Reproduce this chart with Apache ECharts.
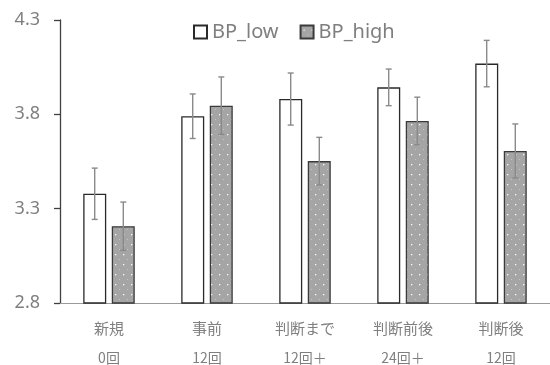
<!DOCTYPE html>
<html><head><meta charset="utf-8">
<script src="https://cdn.jsdelivr.net/npm/echarts@6/dist/echarts.min.js"></script>
<style>html,body{margin:0;padding:0;background:#fff}#c{width:550px;height:365px}</style>
</head><body><div id="c"></div>
<script>
var categories = ['新規', '事前', '判断まで', '判断前後', '判断後'];
var subLabels = ['0回', '12回', '12回＋', '24回＋', '12回'];
var seriesNames = ['BP_low', 'BP_high'];
var lowValues = [3.379, 3.790, 3.881, 3.943, 4.069];
var lowErrors = [0.136, 0.118, 0.138, 0.097, 0.123];
var highValues = [3.207, 3.846, 3.552, 3.765, 3.606];
var highErrors = [0.128, 0.152, 0.126, 0.126, 0.143];
var yTicks = [2.8, 3.3, 3.8, 4.3];

function makePattern() {
  var c = document.createElement('canvas');
  c.width = 8; c.height = 10;
  var ctx = c.getContext('2d');
  ctx.fillStyle = '#a5a5a5';
  ctx.fillRect(0, 0, 8, 10);
  ctx.fillStyle = 'rgba(255,255,255,0.95)';
  ctx.fillRect(3, 4, 1.3, 1.3);
  ctx.fillStyle = 'rgba(255,255,255,0.35)';
  ctx.fillRect(7, 9, 1, 1);
  return c;
}
var pat = { image: makePattern(), repeat: 'repeat' };

var BAR_W = 23, BAR_OFF = 14.3;

function errSeries(name, values, errors, sign) {
  var data = values.map(function (v, i) { return [i, v, errors[i]]; });
  return {
    type: 'custom', name: name + '_err', silent: true, z: 5,
    data: data,
    renderItem: function (params, api) {
      var i = api.value(0), v = api.value(1), e = api.value(2);
      var top = api.coord([i, v + e]);
      var bot = api.coord([i, v - e]);
      var x = top[0] + sign * BAR_OFF;
      var cw = 3;
      var st = { stroke: '#8a8a8a', lineWidth: 1.4 };
      return { type: 'group', children: [
        { type: 'line', shape: { x1: x, y1: top[1], x2: x, y2: bot[1] }, style: st },
        { type: 'line', shape: { x1: x - cw, y1: top[1], x2: x + cw, y2: top[1] }, style: st },
        { type: 'line', shape: { x1: x - cw, y1: bot[1], x2: x + cw, y2: bot[1] }, style: st }
      ]};
    }
  };
}

var chart = echarts.init(document.getElementById('c'), null, { renderer: 'canvas' });
chart.setOption({
  animation: false,
  textStyle: { fontFamily: '"Noto Sans", "Noto Sans CJK JP", sans-serif' },
  legend: {
    data: seriesNames, left: 188, top: 17, itemWidth: 13, itemHeight: 13, itemGap: 21,
    icon: 'rect',
    textStyle: { fontSize: 20, color: '#7f7f7f', fontFamily: '"Noto Sans", sans-serif' }
  },
  grid: { left: 60, top: 20, width: 497.5, bottom: 62, containLabel: false },
  xAxis: {
    type: 'category', data: categories,
    axisLine: { lineStyle: { color: '#9a9a9a', width: 1 } },
    axisTick: { alignWithLabel: true, length: 4, lineStyle: { color: '#9a9a9a' } },
    axisLabel: {
      margin: 10, interval: 0,
      formatter: function (v, idx) { return '{a|' + v + '}\n{b|' + subLabels[idx] + '}'; },
      rich: {
        a: { fontSize: 15, lineHeight: 30, color: '#7f7f7f', fontFamily: '"Noto Sans CJK JP", sans-serif' },
        b: { fontSize: 14, lineHeight: 30, color: '#7f7f7f', fontFamily: '"Noto Sans CJK JP", sans-serif' }
      }
    }
  },
  yAxis: {
    type: 'value', min: 2.8, max: 4.3,
    splitLine: { show: false },
    axisLine: { show: true, lineStyle: { color: '#404040', width: 1.3 } },
    axisTick: { show: true, length: 6, customValues: yTicks, lineStyle: { color: '#404040', width: 1.3 } },
    axisLabel: {
      customValues: yTicks, margin: 20, fontSize: 18, color: '#7f7f7f',
      fontFamily: '"Noto Sans", sans-serif',
      formatter: function (v) { return v.toFixed(1); }
    }
  },
  series: [
    { type: 'bar', name: seriesNames[0], data: lowValues, barWidth: BAR_W, barGap: '24%',
      itemStyle: { color: '#ffffff', borderColor: '#2a2a2a', borderWidth: 1.3 } },
    { type: 'bar', name: seriesNames[1], data: highValues, barWidth: BAR_W, barGap: '24%',
      itemStyle: { color: pat, borderColor: '#3a3a3a', borderWidth: 1.3 } },
    errSeries(seriesNames[0], lowValues, lowErrors, -1),
    errSeries(seriesNames[1], highValues, highErrors, 1)
  ]
});
</script></body></html>
